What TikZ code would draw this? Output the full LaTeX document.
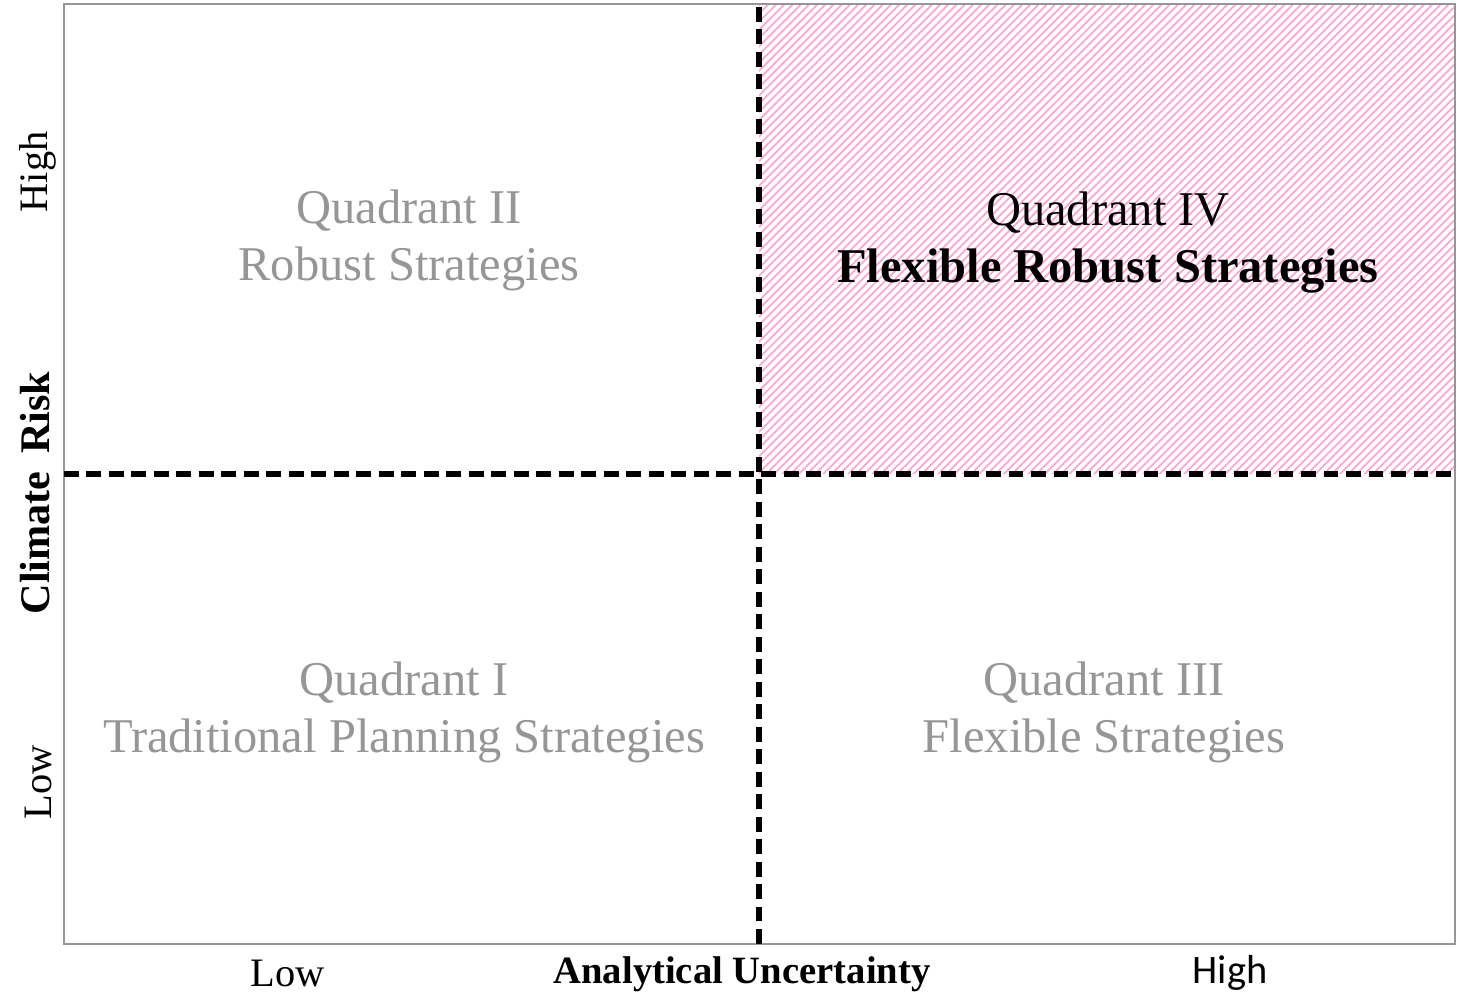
\documentclass[tikz,border=0pt]{standalone}
\usepackage{fontspec}
\setmainfont{Liberation Serif}
\newfontfamily\carlito{Carlito}
\usetikzlibrary{patterns.meta}

\definecolor{quadgray}{RGB}{150,150,150}
\definecolor{hatchpink}{RGB}{255,165,210}

\begin{document}
\begin{tikzpicture}
[frameDecorate/.style={draw=quadgray,line width=0.7pt},%
  splitDecorate/.style={line width=1.6pt,dash pattern=on 4.2pt off 2.2pt},
  hatchDecorate/.style={pattern={Lines[angle=45,distance=1.65pt,line width=0.5pt]},pattern color=hatchpink},
  quadLabel/.style={align=center,font=\fontsize{13.8}{16.2}\selectfont,text=quadgray},
  axisLabel/.style={font=\fontsize{11.5}{13}\selectfont}]
\useasboundingbox (0,0) rectangle (14.57,9.94);
%% corners of the grid and its centre
\coordinate (sw) at (0.64,0.50);
\coordinate (ne) at (14.55,9.90);
\coordinate (mid) at (7.59,5.20);
%% hatched quadrant and frame
\fill[hatchDecorate] (mid) rectangle (ne);
\draw[frameDecorate] (sw) rectangle (ne);
%% dashed split lines
\draw[splitDecorate] (mid |- sw) -- (mid |- ne);
\draw[splitDecorate] (sw |- mid) -- (ne |- mid);
%% quadrant labels
\foreach \nodename/\x/\y/\txt in {
  quadII/4.09/7.54/{Quadrant II\\Robust Strategies},
  quadI/4.04/2.82/{Quadrant I\\Traditional Planning Strategies},
  quadIII/11.04/2.82/{Quadrant III\\Flexible Strategies}}
{
  \node (\nodename) at (\x,\y) [quadLabel] {\txt};
}
\node (quadIV) at (11.08,7.51) [quadLabel,text=black] {Quadrant IV\\\textbf{Flexible Robust Strategies}};
%% axis labels
\node (riskname) at (0.35,5.01) [axisLabel,rotate=90,font=\fontsize{12}{14}\selectfont] {\textbf{Climate\, Risk}};
\node (riskhigh) at (0.38,8.22) [axisLabel,rotate=90] {High};
\node (risklow) at (0.38,2.12) [axisLabel,rotate=90] {Low};
\node (uncname) at (7.42,0.20) [axisLabel,font=\fontsize{11}{13}\selectfont] {\textbf{Analytical Uncertainty}};
\node (unclow) at (2.88,0.21) [axisLabel] {Low};
\node (unchigh) at (12.30,0.21) [axisLabel,font=\carlito\fontsize{11.5}{13}\selectfont] {High};
\end{tikzpicture}
\end{document}
